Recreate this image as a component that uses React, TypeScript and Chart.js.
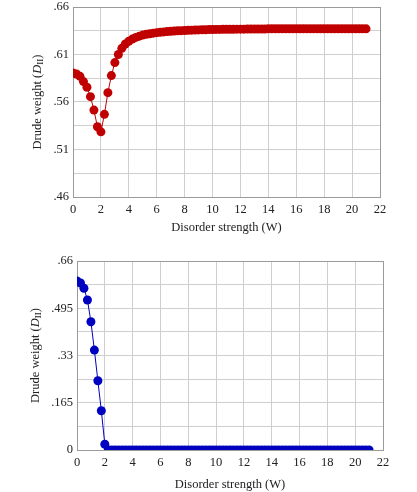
import React, { useEffect, useRef } from "react";
import { Chart, registerables } from "chart.js";

Chart.register(...registerables);

// Disorder strength W (shared by both panels)
const disorderW = [
  0, 0.25, 0.5, 0.75, 1, 1.25, 1.5, 1.75, 2, 2.25, 2.5, 2.75, 3, 3.25, 3.5, 3.75,
  4, 4.25, 4.5, 4.75, 5, 5.25, 5.5, 5.75, 6, 6.25, 6.5, 6.75, 7, 7.25, 7.5, 7.75,
  8, 8.25, 8.5, 8.75, 9, 9.25, 9.5, 9.75, 10, 10.25, 10.5, 10.75, 11, 11.25, 11.5, 11.75,
  12, 12.25, 12.5, 12.75, 13, 13.25, 13.5, 13.75, 14, 14.25, 14.5, 14.75, 15, 15.25, 15.5, 15.75,
  16, 16.25, 16.5, 16.75, 17, 17.25, 17.5, 17.75, 18, 18.25, 18.5, 18.75, 19, 19.25, 19.5, 19.75,
  20, 20.25, 20.5, 20.75, 21,
];

// Top panel Drude weight values
const drudeTop = [
  0.5905, 0.5895, 0.587, 0.5815, 0.5755, 0.5656, 0.5515, 0.534, 0.5286, 0.547, 0.5698, 0.5878, 0.6015, 0.61, 0.6165, 0.621,
  0.624, 0.6262, 0.628, 0.6293, 0.6304, 0.6312, 0.6319, 0.6325, 0.633, 0.6334, 0.6338, 0.6341, 0.6344, 0.6347, 0.6349, 0.6351,
  0.6353, 0.6355, 0.6356, 0.6358, 0.6359, 0.636, 0.6361, 0.6362, 0.6363, 0.6364, 0.6364, 0.6365, 0.6365, 0.6366, 0.6366, 0.6367,
  0.6367, 0.6367, 0.6368, 0.6368, 0.6368, 0.6369, 0.6369, 0.6369, 0.637, 0.637, 0.637, 0.637, 0.637, 0.637, 0.637, 0.637,
  0.637, 0.637, 0.637, 0.637, 0.637, 0.637, 0.637, 0.637, 0.637, 0.637, 0.637, 0.637, 0.637, 0.637, 0.637, 0.637,
  0.637, 0.637, 0.637, 0.637, 0.637,
];

// Bottom panel Drude weight values
const drudeBottom = [
  0.59, 0.583, 0.565, 0.524, 0.448, 0.349, 0.242, 0.137, 0.02, 0, 0, 0, 0, 0, 0, 0,
  0, 0, 0, 0, 0, 0, 0, 0, 0, 0, 0, 0, 0, 0, 0, 0,
  0, 0, 0, 0, 0, 0, 0, 0, 0, 0, 0, 0, 0, 0, 0, 0,
  0, 0, 0, 0, 0, 0, 0, 0, 0, 0, 0, 0, 0, 0, 0, 0,
  0, 0, 0, 0, 0, 0, 0, 0, 0, 0, 0, 0, 0, 0, 0, 0,
  0, 0, 0, 0, 0,
];

const topYLabels = [".46", ".51", ".56", ".61", ".66"];
const bottomYLabels = ["0", ".165", ".33", ".495", ".66"];

const FONT = "'Liberation Serif', 'Times New Roman', serif";
const FS = 12.5;

type PanelCfg = {
  values: number[];
  color: string;
  yMin: number;
  yMax: number;
  yStep: number;
  yLabels: string[];
  yAxisWidth: number;
  xAxisHeight: number;
  padTop: number;
  padRight: number;
  titleBottomPad: number;
  yTitleX: number;
};

function makeFramePlugin(titleX: number) {
  return {
    id: "frameAndTitle",
    beforeDatasetsDraw(chart: any) {
      const { ctx, chartArea } = chart;
      ctx.save();
      ctx.strokeStyle = "#9a9a9a";
      ctx.lineWidth = 1;
      ctx.strokeRect(
        Math.round(chartArea.left) + 0.5,
        Math.round(chartArea.top) + 0.5,
        Math.round(chartArea.right - chartArea.left),
        Math.round(chartArea.bottom - chartArea.top)
      );
      ctx.restore();
    },
    afterDraw(chart: any) {
      const { ctx, chartArea } = chart;
      const midY = (chartArea.top + chartArea.bottom) / 2;
      const parts = [
        { t: "Drude weight (", f: `${FS}px ${FONT}`, dy: 0 },
        { t: "D", f: `italic ${FS}px ${FONT}`, dy: 0 },
        { t: "II", f: `9px ${FONT}`, dy: 3 },
        { t: ")", f: `${FS}px ${FONT}`, dy: 0 },
      ];
      ctx.save();
      let total = 0;
      const widths = parts.map((p) => {
        ctx.font = p.f;
        const w = ctx.measureText(p.t).width;
        total += w;
        return w;
      });
      ctx.translate(titleX, midY);
      ctx.rotate(-Math.PI / 2);
      ctx.fillStyle = "#222";
      ctx.textBaseline = "middle";
      ctx.textAlign = "left";
      let x = -total / 2;
      parts.forEach((p, i) => {
        ctx.font = p.f;
        ctx.fillText(p.t, x, p.dy);
        x += widths[i];
      });
      ctx.restore();
    },
  };
}

function Panel({ cfg }: { cfg: PanelCfg }) {
  const ref = useRef<HTMLCanvasElement | null>(null);
  useEffect(() => {
    if (!ref.current) return;
    const points = disorderW.map((w, i) => ({ x: w, y: cfg.values[i] }));
    const chart = new Chart(ref.current, {
      type: "line",
      data: {
        datasets: [
          {
            data: points,
            borderColor: cfg.color,
            backgroundColor: cfg.color,
            pointBackgroundColor: cfg.color,
            pointBorderColor: cfg.color,
            pointRadius: 4.5,
            pointBorderWidth: 0,
            borderWidth: 1,
            tension: 0,
            fill: false,
          },
        ],
      },
      options: {
        animation: false,
        responsive: false,
        maintainAspectRatio: false,
        events: [],
        layout: {
          padding: { left: 0, right: cfg.padRight, top: cfg.padTop, bottom: 0 },
        },
        plugins: {
          legend: { display: false },
          tooltip: { enabled: false },
        },
        scales: {
          x: {
            type: "linear",
            min: 0,
            max: 22,
            border: { display: false },
            grid: { color: "#cfcfcf", lineWidth: 1, drawTicks: false },
            ticks: {
              stepSize: 2,
              padding: 5,
              autoSkip: false,
              maxRotation: 0,
              color: "#222",
              font: { family: FONT, size: FS },
            },
            title: {
              display: true,
              text: "Disorder strength (W)",
              color: "#222",
              font: { family: FONT, size: FS },
              padding: { top: 0, bottom: cfg.titleBottomPad },
            },
            afterFit: (scale: any) => {
              scale.height = cfg.xAxisHeight;
              scale.paddingLeft = 0;
              scale.paddingRight = 0;
            },
          },
          y: {
            type: "linear",
            min: cfg.yMin,
            max: cfg.yMax,
            border: { display: false },
            grid: { color: "#cfcfcf", lineWidth: 1, drawTicks: false },
            ticks: {
              stepSize: cfg.yStep,
              padding: 4,
              autoSkip: false,
              color: "#222",
              font: { family: FONT, size: FS },
              callback: (_v: any, index: number) =>
                index % 2 === 0 ? cfg.yLabels[index / 2] : "",
            },
            afterFit: (scale: any) => {
              scale.width = cfg.yAxisWidth;
              scale.paddingTop = 0;
              scale.paddingBottom = 0;
            },
          },
        },
      },
      plugins: [makeFramePlugin(cfg.yTitleX)],
    } as any);
    return () => chart.destroy();
  }, [cfg]);
  return <canvas ref={ref} width={417} height={246} style={{ display: "block", width: 417, height: 246 }} />;
}

const topCfg: PanelCfg = {
  values: drudeTop,
  color: "#c00000",
  yMin: 0.46,
  yMax: 0.66,
  yStep: 0.025,
  yLabels: topYLabels,
  yAxisWidth: 73,
  xAxisHeight: 49,
  padTop: 7,
  padRight: 37,
  titleBottomPad: 11,
  yTitleX: 38,
};

const bottomCfg: PanelCfg = {
  values: drudeBottom,
  color: "#0000c0",
  yMin: 0,
  yMax: 0.66,
  yStep: 0.0825,
  yLabels: bottomYLabels,
  yAxisWidth: 77,
  xAxisHeight: 42,
  padTop: 15,
  padRight: 34,
  titleBottomPad: 0,
  yTitleX: 36,
};

export default function App() {
  return (
    <div style={{ position: "fixed", left: 0, top: 0, width: 417, height: 492, background: "#fff" }}>
      <Panel cfg={topCfg} />
      <Panel cfg={bottomCfg} />
    </div>
  );
}
